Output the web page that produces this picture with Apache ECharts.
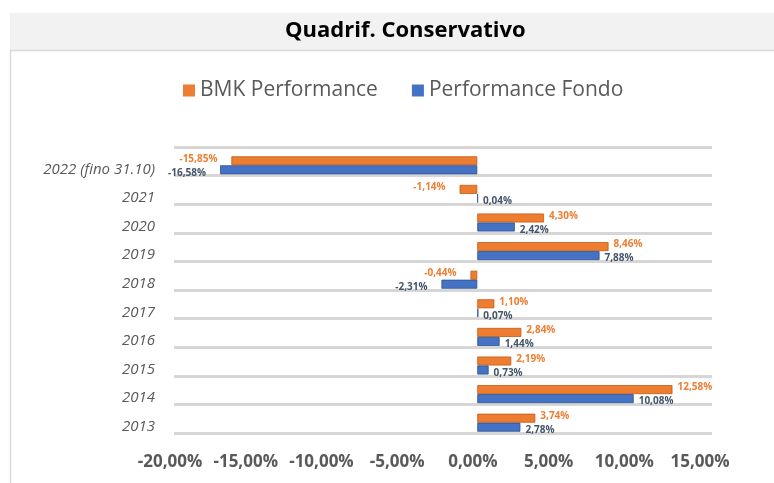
<!DOCTYPE html>
<html>
<head>
<meta charset="utf-8">
<script src="https://cdn.jsdelivr.net/npm/echarts@6/dist/echarts.min.js"></script>
<style>
  html, body { margin: 0; padding: 0; background: #fff; }
  #main { width: 774px; height: 483px; }
</style>
</head>
<body>
<div id="main"></div>
<script>
var years = ['2013', '2014', '2015', '2016', '2017', '2018', '2019', '2020', '2021', '2022 (fino 31.10)'];
var bmkValues = [3.74, 12.58, 2.19, 2.84, 1.10, -0.44, 8.46, 4.30, -1.14, -15.85];
var fondoValues = [2.78, 10.08, 0.73, 1.44, 0.07, -2.31, 7.88, 2.42, 0.04, -16.58];
var xMin = -20, xMax = 15, xStep = 5;

var fmt = function (v) { return v.toFixed(2).replace('.', ',') + '%'; };

function withLabels(values) {
    return values.map(function (v) {
        return {
            value: v,
            label: { position: v < 0 ? 'left' : 'right', distance: v < 0 ? 14 : 5 }
        };
    });
}

var myChart = echarts.init(document.getElementById('main'));
var font = 'Open Sans';
var option = {
    backgroundColor: '#fff',
    animation: false,
    graphic: [
        { type: 'rect', shape: { x: 10, y: 13, width: 770, height: 37 }, style: { fill: '#f2f2f2' }, z: -1 },
        { type: 'line', shape: { x1: 10, y1: 50.5, x2: 774, y2: 50.5 }, style: { stroke: '#d9d9d9', lineWidth: 1.5 } },
        { type: 'line', shape: { x1: 10.5, y1: 50, x2: 10.5, y2: 483 }, style: { stroke: '#d9d9d9', lineWidth: 1.5 } }
    ],
    title: {
        text: 'Quadrif. Conservativo',
        left: 280,
        top: 15,
        textStyle: { fontFamily: font, fontWeight: 'bold', fontSize: 22, color: '#000' }
    },
    legend: {
        top: 75,
        left: 178,
        itemWidth: 12,
        itemHeight: 12,
        itemGap: 34,
        icon: 'rect',
        itemStyle: { borderWidth: 0 },
        textStyle: { fontFamily: font, fontSize: 21, color: '#595959' },
        data: ['BMK Performance', 'Performance Fondo']
    },
    grid: [
        // bars
        { left: 167, right: 64, top: 151, bottom: 46 },
        // back gridlines
        { left: 174, right: 62, top: 147, bottom: 50 },
        // front labels
        { left: 170, right: 74, top: 155, bottom: 42 }
    ],
    xAxis: [{
        gridIndex: 0,
        type: 'value',
        min: xMin,
        max: xMax,
        interval: xStep,
        show: false
    }, {
        gridIndex: 1,
        type: 'value',
        min: xMin,
        max: xMax,
        show: false
    }, {
        gridIndex: 2,
        type: 'value',
        min: xMin,
        max: xMax,
        interval: xStep,
        axisLine: { show: false },
        axisTick: { show: false },
        splitLine: { show: false },
        axisLabel: {
            formatter: fmt,
            fontFamily: font,
            fontWeight: 'bold',
            fontSize: 17,
            color: '#595959',
            margin: 13
        }
    }],
    yAxis: [{
        gridIndex: 0,
        type: 'category',
        data: years,
        show: false
    }, {
        gridIndex: 1,
        type: 'category',
        data: years,
        axisLine: { show: false },
        axisTick: { show: false },
        axisLabel: { show: false },
        splitLine: { show: true, lineStyle: { color: '#d6d6d6', width: 3 } }
    }, {
        gridIndex: 2,
        type: 'category',
        data: years,
        axisLine: { show: false },
        axisTick: { show: false },
        splitLine: { show: false },
        axisLabel: {
            fontFamily: font,
            fontStyle: 'italic',
            fontSize: 15,
            color: '#595959',
            margin: 15
        }
    }],
    series: [{
        name: 'BMK Performance',
        type: 'bar',
        xAxisIndex: 0,
        yAxisIndex: 0,
        barWidth: 9,
        barGap: '0%',
        itemStyle: { color: '#ed7d31', borderColor: '#c55a11', borderWidth: 0.8 },
        label: {
            show: true,
            formatter: function (p) { return fmt(p.value); },
            fontFamily: font,
            fontWeight: 'bold',
            fontSize: 10,
            color: '#ed7d31',
            offset: [0, -2]
        },
        data: withLabels(bmkValues)
    }, {
        name: 'Performance Fondo',
        type: 'bar',
        xAxisIndex: 0,
        yAxisIndex: 0,
        barWidth: 9,
        barGap: '0%',
        itemStyle: { color: '#4472c4', borderColor: '#2f528f', borderWidth: 0.8 },
        label: {
            show: true,
            formatter: function (p) { return fmt(p.value); },
            fontFamily: font,
            fontWeight: 'bold',
            fontSize: 10,
            color: '#44546a',
            offset: [0, 3]
        },
        data: withLabels(fondoValues)
    }]
};
myChart.setOption(option);
</script>
</body>
</html>
